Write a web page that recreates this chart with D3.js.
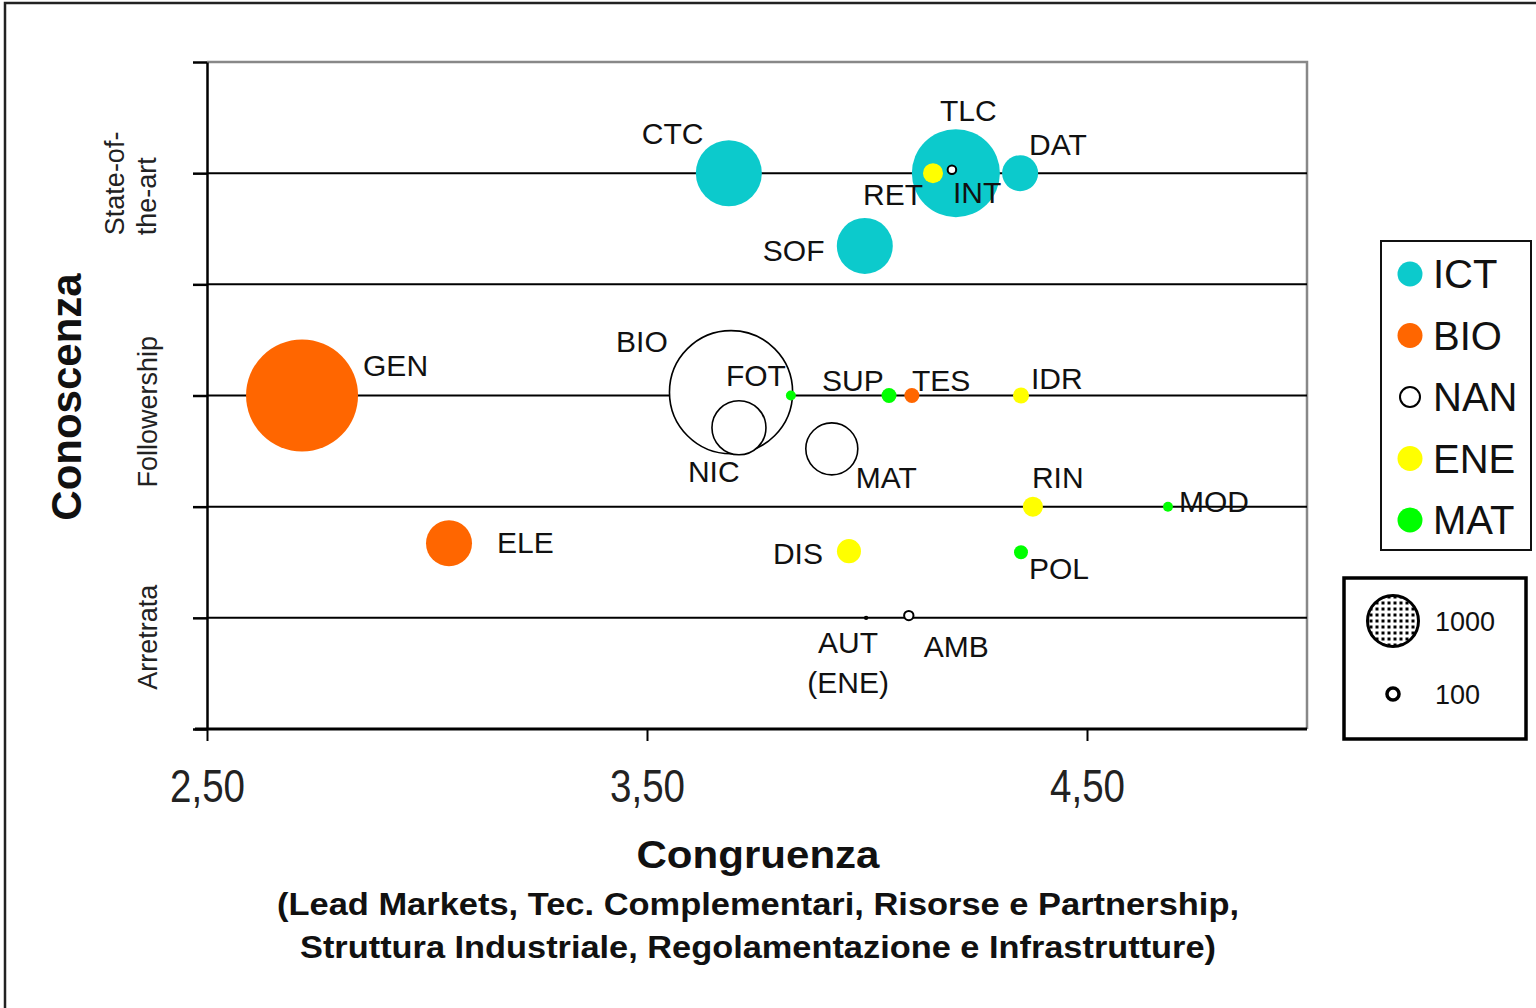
<!DOCTYPE html>
<meta charset="utf-8">
<style>
body { margin: 0; background: #fff; }
svg { display: block; font-family: "Liberation Sans", Arial, Helvetica, sans-serif; }
.griglia { stroke: #000; stroke-width: 2px; }
.etichetta { font-size: 30px; fill: #111; }
.asse-y path, .asse-y line { stroke: #000; stroke-width: 2.5px; }
.asse-x line { stroke: #000; stroke-width: 2px; }
.asse-x path { display: none; }
</style>
<body>

<script src="https://cdn.jsdelivr.net/npm/d3@7/dist/d3.min.js"></script>
<script>

// tecnologie (sigle), settore, congruenza (x), conoscenza (y), dimensione
var sigle      = ["GEN", "ELE", "BIO", "NIC", "FOT", "MAT", "SUP", "TES", "IDR", "RIN", "MOD",
                  "POL", "DIS", "AUT", "AMB", "CTC", "SOF", "TLC", "DAT", "RET", "INT"];
var settori    = ["BIO", "BIO", "NAN", "NAN", "MAT", "NAN", "MAT", "BIO", "ENE", "ENE", "MAT",
                  "MAT", "ENE", "ENE", "NAN", "ICT", "ICT", "ICT", "ICT", "ENE", "NAN"];
var congruenza = [2.716, 3.05, 3.691, 3.709, 3.827, 3.92, 4.05, 4.102, 4.35, 4.377, 4.684,
                  4.35, 3.959, 3.998, 4.095, 3.686, 3.995, 4.202, 4.348, 4.15, 4.193];
var conoscenza = [3.0, 1.67, 3.03, 2.71, 3.0, 2.52, 3.0, 3.0, 3.0, 2.0, 2.0,
                  1.59, 1.60, 1.0, 1.02, 5.0, 4.345, 5.0, 5.0, 5.0, 5.03];
var dimensione = [4300, 726, 5200, 1000, 34, 927, 77, 77, 88, 137, 34,
                  67, 198, 2, 30, 1494, 1075, 2656, 444, 137, 25];

var categorie  = ["ICT", "BIO", "NAN", "ENE", "MAT"];
var livelli    = [["Arretrata"], ["Followership"], ["State-of-", "the-art"]];
var livelliVal = [1, 3, 5];
var xTicks     = [2.5, 3.5, 4.5];
var legendaDim = [1000, 100];

// colori per settore (NAN = cerchio vuoto)
var colori = {ICT: "#0CCACC", BIO: "#FF6600", NAN: "#fff", ENE: "#FFFF00", MAT: "#00FF00"};

// posizione delle etichette rispetto al centro della bolla (px)
var posEtichette = {
  GEN: [61, -20], ELE: [48, 10], BIO: [-115, -40], NIC: [-51, 54], FOT: [-65, -10],
  MAT: [24, 39], SUP: [-67, -5], TES: [0, -5], IDR: [10, -7], RIN: [-1, -19],
  MOD: [11, 5], POL: [8, 27], DIS: [-76, 13], AMB: [15, 41], CTC: [-87, -29],
  SOF: [-102, 15], TLC: [-16, -52], DAT: [9, -18], RET: [-70, 32], INT: [1, 33]
};

var dati = sigle.map(function(s, i) {
  return {sigla: s, settore: settori[i], x: congruenza[i], y: conoscenza[i], n: dimensione[i]};
});

var W = 1536, H = 1008;
var area = {left: 207, right: 1307, top: 62, bottom: 729};

var x = d3.scaleLinear().domain([2.5, 5]).range([area.left, area.right]);
var y = d3.scaleLinear().domain([0, 6]).range([area.bottom, area.top]);
var r = d3.scaleSqrt().domain([0, 1000]).range([0, 27]);

var svg = d3.select("body").append("svg")
    .attr("width", W)
    .attr("height", H);

// pattern a puntini per la legenda dimensioni
var pat = svg.append("defs").append("pattern")
    .attr("id", "puntini")
    .attr("width", 6).attr("height", 6)
    .attr("patternUnits", "userSpaceOnUse");
pat.append("rect").attr("width", 6).attr("height", 6).attr("fill", "#fff");
pat.append("rect").attr("x", 1.5).attr("y", 1.5).attr("width", 3).attr("height", 3).attr("fill", "#000");

// cornice esterna
svg.append("rect")
    .attr("x", 5).attr("y", 3)
    .attr("width", W + 50).attr("height", H + 50)
    .attr("fill", "none")
    .attr("stroke", "#222")
    .attr("stroke-width", 2.5);

// bordo area grafico (grigio)
svg.append("path")
    .attr("d", "M" + area.left + "," + area.top + "H" + area.right + "V" + area.bottom)
    .attr("fill", "none")
    .attr("stroke", "#888")
    .attr("stroke-width", 2.5);

// linee orizzontali
svg.append("g").selectAll("line")
    .data([1, 2, 3, 4, 5])
  .enter().append("line")
    .attr("class", "griglia")
    .attr("x1", area.left).attr("x2", area.right)
    .attr("y1", function(d) { return y(d); })
    .attr("y2", function(d) { return y(d); });

// asse x
var fmt = function(d) { return d3.format(".2f")(d).replace(".", ","); };
var gx = svg.append("g")
    .attr("class", "asse-x")
    .attr("transform", "translate(0," + area.bottom + ")")
    .call(d3.axisBottom(x).tickValues(xTicks).tickSize(12).tickFormat(fmt));
gx.selectAll("text")
    .attr("y", 40)
    .attr("fill", "#222")
    .style("font-family", "'Liberation Sans Narrow', 'Liberation Sans', Arial, sans-serif")
    .style("font-size", "47px")
    .attr("textLength", 75)
    .attr("lengthAdjust", "spacingAndGlyphs");

svg.append("line")
    .attr("x1", area.left - 12).attr("x2", area.right)
    .attr("y1", area.bottom).attr("y2", area.bottom)
    .attr("stroke", "#000")
    .attr("stroke-width", 3);

// asse y
svg.append("g")
    .attr("class", "asse-y")
    .attr("transform", "translate(" + area.left + ",0)")
    .call(d3.axisLeft(y).tickValues(d3.range(0, 7)).tickSize(14).tickSizeOuter(0).tickFormat(""));

// etichette dei livelli di conoscenza
var offLivelli = [[72, 157], [92, 157], [62, 124]];
livelli.forEach(function(righe, i) {
  righe.forEach(function(t, j) {
    var px = offLivelli[i][1] + j * 32, py = y(livelliVal[i]) + offLivelli[i][0];
    svg.append("text")
        .attr("transform", "translate(" + px + "," + py + ") rotate(-90)")
        .style("font-size", "27px")
        .attr("fill", "#222")
        .text(t);
  });
});

// bolle (le più grandi sotto)
var ordinati = dati.slice().sort(function(a, b) { return b.n - a.n; });
svg.append("g").selectAll("circle")
    .data(ordinati)
  .enter().append("circle")
    .attr("cx", function(d) { return x(d.x); })
    .attr("cy", function(d) { return y(d.y); })
    .attr("r", function(d) { return Math.max(1.2, r(d.n)); })
    .attr("fill", function(d) { return colori[d.settore]; })
    .attr("stroke", function(d) { return (d.settore == "NAN" || r(d.n) < 2) ? "#000" : "none"; })
    .attr("stroke-width", function(d) { return r(d.n) < 8 ? 2 : 1.6; });

// etichette
dati.forEach(function(d) {
  if (d.sigla == "AUT") return;
  var o = posEtichette[d.sigla];
  svg.append("text")
      .attr("class", "etichetta")
      .attr("x", x(d.x) + o[0])
      .attr("y", y(d.y) + o[1])
      .text(d.sigla);
});
// AUT (ENE) su due righe
var aut = dati.filter(function(d) { return d.sigla == "AUT"; })[0];
["AUT", "(ENE)"].forEach(function(t, j) {
  svg.append("text")
      .attr("class", "etichetta")
      .attr("text-anchor", "middle")
      .attr("x", x(aut.x) - 18)
      .attr("y", y(aut.y) + 35 + j * 40)
      .text(t);
});

// legenda settori
var leg = svg.append("g");
leg.append("rect")
    .attr("x", 1381).attr("y", 241)
    .attr("width", 150).attr("height", 309)
    .attr("fill", "#fff")
    .attr("stroke", "#111")
    .attr("stroke-width", 2);
categorie.forEach(function(c, i) {
  var cy = 274 + i * 61.5;
  leg.append("circle")
      .attr("cx", 1410).attr("cy", cy)
      .attr("r", c == "NAN" ? 10 : 12.5)
      .attr("fill", colori[c])
      .attr("stroke", c == "NAN" ? "#000" : "none")
      .attr("stroke-width", 2);
  leg.append("text")
      .attr("x", 1433).attr("y", cy + 14)
      .style("font-size", "40px")
      .attr("fill", "#111")
      .text(c);
});

// legenda dimensioni
var legD = svg.append("g");
legD.append("rect")
    .attr("x", 1344).attr("y", 578)
    .attr("width", 182).attr("height", 161)
    .attr("fill", "#fff")
    .attr("stroke", "#000")
    .attr("stroke-width", 3.5);
legendaDim.forEach(function(v, i) {
  var cy = i == 0 ? 621 : 694;
  legD.append("circle")
      .attr("cx", 1393).attr("cy", cy)
      .attr("r", i == 0 ? r(v) - 1.5 : r(v) - 2.5)
      .attr("fill", i == 0 ? "url(#puntini)" : "#fff")
      .attr("stroke", "#000")
      .attr("stroke-width", i == 0 ? 3 : 3.5);
  legD.append("text")
      .attr("x", 1435).attr("y", cy + 10)
      .style("font-size", "27px")
      .attr("fill", "#111")
      .text(v);
});

// titoli assi
svg.append("text")
    .attr("transform", "translate(81,397) rotate(-90)")
    .attr("text-anchor", "middle")
    .style("font-size", "42px")
    .style("font-weight", "bold")
    .attr("fill", "#111")
    .text("Conoscenza");

svg.append("text")
    .attr("x", 758).attr("y", 868)
    .attr("text-anchor", "middle")
    .style("font-size", "38px")
    .style("font-weight", "bold")
    .attr("textLength", 243)
    .attr("lengthAdjust", "spacingAndGlyphs")
    .attr("fill", "#111")
    .text("Congruenza");

var sottotitolo = ["(Lead Markets, Tec. Complementari, Risorse e Partnership,",
                   "Struttura Industriale, Regolamentazione e Infrastrutture)"];
var lunghezze = [962, 916];
sottotitolo.forEach(function(t, i) {
  svg.append("text")
      .attr("x", 758).attr("y", 915 + i * 43)
      .attr("text-anchor", "middle")
      .style("font-size", "32px")
      .style("font-weight", "bold")
      .attr("textLength", lunghezze[i])
      .attr("lengthAdjust", "spacingAndGlyphs")
      .attr("fill", "#111")
      .text(t);
});

</script>
</body>
